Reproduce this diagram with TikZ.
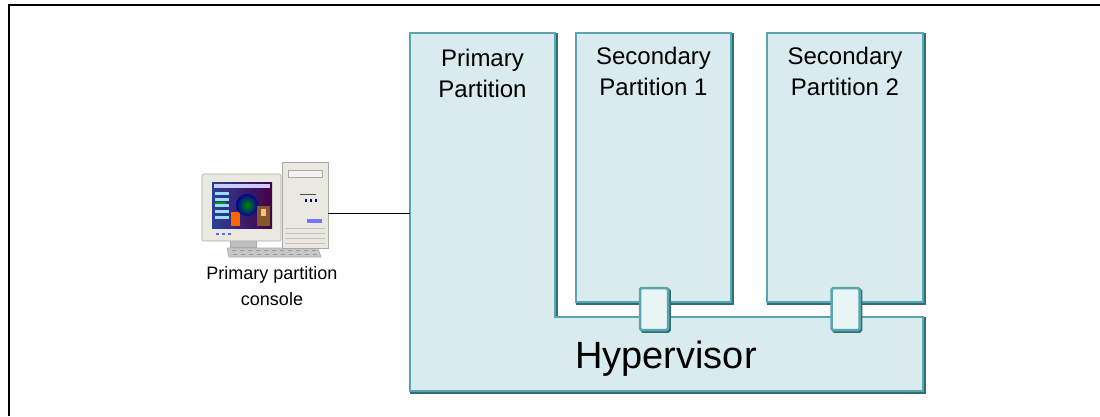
\documentclass[tikz,border=0pt]{standalone}
\usepackage{fontspec}
\setmainfont{Liberation Sans}
\usetikzlibrary{positioning,shadows}
\definecolor{partfill}{HTML}{D9EBEE}
\definecolor{partline}{HTML}{5AA5AE}
\definecolor{partshade}{HTML}{2F6E75}
\definecolor{portfill}{HTML}{E8F4F5}
\definecolor{pcbody}{HTML}{E9E9E2}
\definecolor{pcedge}{HTML}{A9A9A0}
\definecolor{pcscreen}{HTML}{2C3F95}
\begin{document}
\begin{tikzpicture}[x=1pt, y=-1pt,
    partbox/.style={draw=partline, line width=2.5pt, fill=partfill,
      drop shadow={shadow xshift=1.5pt, shadow yshift=-1.5pt,
        fill=partshade, draw=partshade, line width=2.5pt, opacity=1}},
    portbox/.style={partbox, fill=portfill, rounded corners=1.5pt,
      minimum width=28pt, minimum height=42pt, inner sep=0pt},
    parttext/.style={font=\fontsize{24}{31}\selectfont, align=center, inner sep=0pt},
    hvtext/.style={font=\fontsize{38}{44}\selectfont, inner sep=0pt},
    pctext/.style={font=\fontsize{18}{26}\selectfont, align=center, inner sep=0pt},
    pcpart/.style={fill=pcbody, draw=pcedge, line width=0.6pt}]
  \useasboundingbox (0,0) rectangle (1100,416);
  \draw[line width=1.5pt] (9,416) -- (9,5) -- (1100,5);

  % primary partition and hypervisor share one outline
  \draw[partbox] (410,33) -- (555,33) -- (555,317) -- (923,317)
    -- (923,391) -- (410,391) -- cycle;
  \coordinate (pptop) at (482.5,33);
  \coordinate (ppin) at (410,213);
  \node[parttext, below=15.5pt of pptop] (pplabel) {Primary\\Partition};
  \node[hvtext, anchor=base] (hv) at (666,368) {Hypervisor};

  % secondary partitions with their ports into the hypervisor
  \foreach \n/\cx/\w in {1/653.5/155, 2/845/156} {
    \node[partbox, minimum width=\w pt, minimum height=269pt, inner sep=0pt]
      (sec\n) at (\cx,167.5) {};
    \node[parttext, below=15.5pt of sec\n.north] (sec\n label) {Secondary\\Partition \n};
  }
  \node[portbox] (port1) at (654,309) {};
  \node[portbox] (port2) at (845.5,309) {};

  % console: monitor, keyboard and tower
  \draw[pcpart, fill=black!22] (227,248) -- (318,248) -- (321,257) -- (229,257) -- cycle;
  \foreach \kx in {232,240,...,312}
    \draw[black!40, line width=0.4pt] (\kx,250.5) -- (\kx+4,250.5) (\kx+1,254) -- (\kx+5,254);
  \draw[pcpart, fill=black!25] (230,240) rectangle (256,247);
  \draw[pcpart, rounded corners=2pt] (202,174) rectangle (281,241);
  \shade[left color=pcscreen, right color=violet!55!black] (212,182) rectangle (272,228);
  \fill[white!80!blue] (214,184) rectangle (270,188);
  \foreach \ly in {192,198,204,210,216}
    \fill[cyan!40!white] (215,\ly) rectangle (229,\ly+2.5);
  \fill[green!60!black] (215,202) rectangle (226,204);
  \fill[orange!80!red] (231,212) rectangle (240,226);
  \shade[inner color=green!55!black, outer color=blue!60!black] (247,205) circle (11);
  \fill[brown!70!black] (257,206) rectangle (270,226);
  \fill[orange!50!white] (261,209) rectangle (266,216);
  \foreach \bx in {216,222,228} \fill[blue!60] (\bx,233) rectangle (\bx+3,235);
  \node[pcpart, minimum width=46pt, minimum height=86pt, inner sep=0pt]
    (tower) at (305,205) {};
  \draw[pcpart, fill=white!95!black] (288,170) rectangle (322,177);
  \draw[black!70, line width=1pt] (300,194) -- (316,194);
  \foreach \dx in {305,310,315} \fill[blue!50!black] (\dx,199) rectangle (\dx+1.5,202);
  \fill[blue!55] (307,219) rectangle (322,223);
  \foreach \gy in {228,233,238,243}
    \draw[black!25, line width=0.5pt] (285,\gy) -- (325,\gy);
  \coordinate (pcport) at (tower.east |- ppin);
  \node[pctext] (pclabel) at (272,286) {Primary partition\\console};

  \draw[line width=1pt] (pcport) -- (ppin);
\end{tikzpicture}
\end{document}
